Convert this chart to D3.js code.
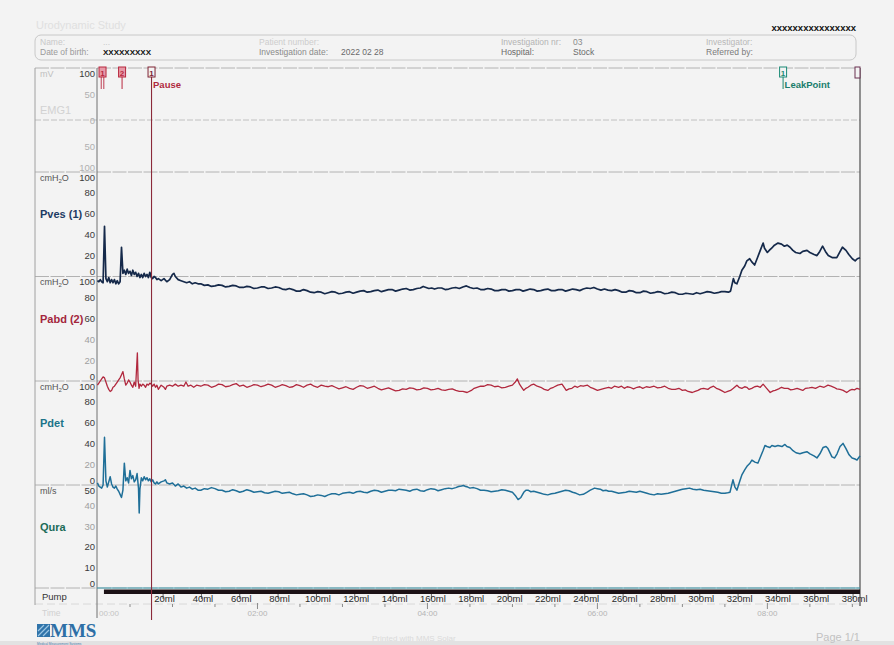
<!DOCTYPE html>
<html>
<head>
<meta charset="utf-8">
<script src="https://cdn.jsdelivr.net/npm/d3@7"></script>
<style>
  html, body { margin: 0; padding: 0; background: #f3f3f3; }
  svg { display: block; font-family: "Liberation Sans", Arial, sans-serif; }
</style>
</head>
<body>
<svg id="chart" width="894" height="645"></svg>
<script>
// ---- Recorded channels: [time in s, value] ----
const pvesData = [
  [7,-4],[8,-5],[9,-3],[10,-5],[11,-6],[12,48],[13,-2],[14,-5],[15,-1],[16,-6],[17,-3],[18,-6],[19,-3],[20,-7],[21,-4],[22,-7],[23,-5],[24,28],[25,3],[26,6],[27,2],[28,7],[29,3],[30,5],[31,1],[32,6],[33,2],[34,4],[35,0],[36,3],[37,-1],[38,2],[39,-1],[40,3],[41,0],[42,2],[43,-1],[44,4],[45,-1],[46,-2],[47,0],[48,-1],[49,-3],[50,-2],[52,-4],[54,-2],[56,-5],[58,-3],[60,2],[61,3],[62,0],[64,-3],[66,-4],[68,-5],[70,-6],[72,-5],[74,-7],[76,-6],[78,-7],
  [80,-7],[82.5,-8.5],[85,-8],[87.5,-9.5],[90,-9],[92.5,-8],[95,-8.5],[97.5,-10],[100,-9.5],[102.5,-8.5],[105,-9],[107.5,-10.5],[110,-10.5],[112.5,-9.5],[115,-10],[117.5,-11.5],[120,-11],[122.5,-10],[125,-10],[127.5,-11.5],[130,-11],[132.5,-10],[135,-10.5],[137.5,-12],[140,-12.5],[142.5,-11.5],[145,-12.5],[147.5,-14],[150,-14],[152.5,-12.5],[155,-13.5],[157.5,-15],[160,-15.5],[162.5,-14.5],[165,-15],[167.5,-16.5],[170,-15.5],[172.5,-14.5],[175,-15],[177.5,-16.5],[180,-16],[182.5,-15],[185,-14.5],[187.5,-16],[190,-15],[192.5,-14],[195,-13.5],[197.5,-15],[200,-14.5],[202.5,-13.5],[205,-13],[207.5,-14.5],[210,-13.5],[212.5,-12.5],[215,-12.5],[217.5,-14],[220,-13],[222.5,-12],[225,-11.5],[227.5,-13],[230,-12.5],[232.5,-11.5],[235,-11],[237,-9.5],[239,-10.5],[241,-11.5],[243,-11],[245,-12],[247.5,-11],[250,-11],[252.5,-12.5],[255,-12],[257.5,-11],[260,-10.5],[262.5,-11.5],[265,-10],[267.5,-9],[270,-10.5],[272.5,-11.5],[275,-11],[277.5,-12.5],[280,-12.5],[282.5,-11.5],[285,-12],[287.5,-13.5],[290,-13.5],[292.5,-12.5],[295,-12.5],[297.5,-14],[300,-13.5],[302.5,-12.5],[305,-12.5],[307.5,-14],[310,-13],[312.5,-12],[315,-12.5],[317.5,-14],[320,-13.5],[322.5,-12.5],[325,-12],[327.5,-13.5],[330,-13.5],[332.5,-12.5],[335,-12.5],[337.5,-14],[340,-13],[342.5,-12],[345,-12.5],[347.5,-13.5],[350,-12],[352.5,-11],[355,-11.5],[357.5,-10.5],[360,-12],[362.5,-13],[365,-12],[367.5,-13],[370,-13.5],[372.5,-12.5],[375,-13.5],[377.5,-15],[380,-15],[382.5,-13.5],[385,-14],[387.5,-15.5],[390,-15.5],[392.5,-14],[395,-14.5],[397.5,-16],[400,-15.5],[402.5,-14.5],[405,-15],[407.5,-16.5],[410,-16],[412.5,-15],[415,-15.5],[417.5,-17],[420,-17],[422.5,-16],[425,-16.5],[427.5,-17],[430,-15.5],[432.5,-16.5],[435,-15.5],[437.5,-14.5],[440,-15],[442.5,-16],[445,-15.5],[447.5,-14.5],[450,-14.5],[452.5,-15],[454,-14],
  [456,-2],[457,-6],[458.5,-7],[460.5,0],[462,6],[464,10],[465.5,15],[467.5,17],[469,14],[471,11],[473,18],[475,25],[477,32],[478,27],[480,23],[482,26],[483,27],[485,30],[487.5,32],[490,31],[492,29],[494,30],[496,28],[498,25],[500,23],[503,22],[505,24],[508,25],[510,23],[513,21],[515,20],[517,24],[519,29],[521,24],[523,20],[526,18],[529,18],[531,23],[533,28],[535.5,25],[537.5,21],[540,17],[542,15],[543.5,17],[545.4,18]
];

const pabdData = [
  [7,-4],[8,-2],[9,0],[10,2],[11,4],[12,3],[13,-1],[14,-5],[15,-8],[16,-10],[17,-9],[18,-6],[19,-5],[20,-3],[21,-1],[22,1],[23,3],[24,6],[25,9],[26,2],[27,-4],[28,-2],[29,1],[30,-1],[31,-4],[32,-6],[33,-1],[34,-5],[35.2,27],[35.7,1],[36.4,-7],[37,-3],[38,-5],[39,-3],[40,-4],[41,-6],[42,-3],[43,-4],[44,-2],[45,-3],[46,-5],[47,-3],[48,-6],[49,-4],[50,-8],[52,-4],[54,-6],[55,-8],[56,-5],[58,-4],[60,-5],[62,-3],[64,-5],[66,-4],[68,-5],[69.5,-1],[71,-5],[73,-4],[75,-6],[77,-4],
  [80,-5],[82.5,-3.5],[85,-4],[87.5,-6],[90,-5],[92.5,-3],[95,-3.5],[97.5,-5.5],[100,-5],[102.5,-3.5],[105,-2.5],[107.5,-5],[110,-4],[112.5,-6],[115,-5],[117.5,-3.5],[120,-4],[122.5,-5.5],[125,-4.5],[127.5,-3],[130,-4],[132.5,-6],[135,-5],[137.5,-3.5],[140,-4.5],[142.5,-6],[145,-5.5],[147.5,-3.5],[150,-4.5],[152.5,-6],[155,-4],[157.5,-3],[160,-5],[162.5,-6],[165,-4],[167.5,-5],[170,-5.5],[172.5,-4.5],[175,-6],[177.5,-7.5],[180,-6.5],[182.5,-5.5],[185,-7],[187.5,-8],[190,-6],[192.5,-4.5],[195,-5],[197.5,-7],[200,-6],[202.5,-5],[205,-7],[207.5,-8.5],[210,-7.5],[212.5,-6.5],[215,-8],[217.5,-9.5],[220,-9],[222.5,-7.5],[225,-8],[227.5,-6.5],[230,-7],[232.5,-8.5],[235,-8],[237.5,-6.5],[240,-7],[242.5,-8.5],[245,-8],[247.5,-7],[250,-8.5],[252.5,-9],[255,-8],[257.5,-7.5],[260,-9],[262.5,-10],[265,-10],[268,-11],[271,-9],[273,-7],[275,-6],[277.5,-5],[280,-5],[282.5,-3.5],[285,-4],[287.5,-5.5],[290,-5],[292.5,-6.5],[295,-6],[297.5,-5],[300,-4],[302,-1],[303.5,2],[305,-3],[306.5,-6],[308,-9],[309.5,-7],[311,-6],[313,-4],[315,-3],[317.5,-5],[320,-6],[322.5,-8],[325,-9],[327,-7],[329,-6],[332,-4],[335,-3],[338,-9],[340,-7.5],[342,-7],[344,-5],[346,-6],[348,-4.5],[350,-5],[353,-4],[355,-6],[357,-7],[360,-9],[362.5,-8],[365,-7],[368,-6],[370,-7],[372,-5],[375,-6],[377,-5],[379,-7],[381,-5.5],[383,-6],[385.5,-7.5],[388,-6],[390,-5.5],[392,-7],[394.5,-5.5],[397,-6],[400,-5],[402.5,-6.5],[405,-6],[407.5,-5],[410,-7],[412.5,-8],[415,-8],[417.5,-7],[420,-9],[422,-8.5],[424,-10],[427,-11],[429,-10],[431,-9],[433,-7.5],[435,-7],[438,-8],[440,-6],[442,-5],[444,-7],[446,-8],[448,-9.5],[450,-11],[452,-10],[454,-9],[456,-7],
  [458.5,-4],[460,-6],[462,-7],[464,-5.5],[465.5,-6],[467,-8],[469,-7],[471,-5.5],[473,-5],[475,-6],[477,-3],[479.5,-7],[482,-11],[484,-9.5],[485.5,-9],[488,-7.5],[490,-6],[492,-7],[494.5,-7],[496.5,-8.5],[498.5,-8],[501,-7],[503,-8],[505,-9],[507,-7],[509.5,-6.5],[511.5,-6],[514,-7],[517,-5],[520,-6],[522.8,-4],[525,-5],[527,-6],[529,-7.5],[531.3,-8],[533.5,-9],[536,-11],[538,-9],[539.8,-8],[541.5,-8.5],[543.3,-7],[545.4,-8]
];

const pdetData = [
  [7,2],[8,-1],[9,-2],[10,-3],[11,0],[12,46],[13,4],[14,-2],[15,3],[16,8],[17,1],[18,-2],[19,-3],[20,-1],[21,-4],[22,-6],[23,-9],[24,-12],[25,-5],[26,21],[27,4],[28,7],[29,2],[30,14],[31,6],[32,9],[33,3],[34,5],[35,11],[36,-3],[36.5,-27],[37,-4],[38,7],[39,4],[40,8],[41,5],[42,7],[43,4],[44,6],[45,3],[46,5],[47,2],[48,1],[49,3],[50,1],[52,3],[54,4],[55,5],[56,2],[58,1],[60,2],[62,-1],[64,1],[66,-2],[68,-1],[70,-3],[72,-2],[74,-4],[76,-3],[78,-5],
  [80,-5],[82.5,-3.5],[85,-4],[87.5,-2.5],[90,-3.5],[92.5,-5],[95,-5],[97.5,-6.5],[100,-6],[102.5,-4.5],[105,-5.5],[107.5,-7],[110,-6],[112.5,-4.5],[115,-5.5],[117.5,-7],[120,-6.5],[122.5,-6],[125,-7.5],[127.5,-8],[130,-7],[132.5,-6],[135,-6.5],[137.5,-8],[140,-7.5],[142.5,-7],[145,-8.5],[147.5,-9.5],[150,-9],[152.5,-8.5],[155,-9.5],[157.5,-11],[160,-10.5],[162.5,-9.5],[165,-10],[167.5,-11],[170,-9.5],[172.5,-8.5],[175,-8.5],[177.5,-9.5],[180,-8],[182.5,-7.5],[185,-7],[187.5,-8],[190,-6.5],[192.5,-6],[195,-7],[197.5,-7.5],[200,-6],[202.5,-5],[205,-5.5],[207.5,-7],[210,-6],[212.5,-5],[215,-5],[217.5,-5.5],[220,-4],[222.5,-4.5],[225,-5],[227.5,-6],[230,-4.5],[232.5,-4],[235,-5.5],[237.5,-6],[240,-4.5],[242.5,-3.5],[245,-4],[247.5,-5.5],[250,-4.5],[252.5,-3.5],[255,-3],[257.5,-3.5],[260,-2.5],[262,-1.5],[264,-1],[265.5,-0.5],[267,-1.5],[268.5,-2],[270,-3],[272.5,-2.5],[275,-3.5],[277.5,-5],[280,-5],[282.5,-5.5],[285,-6.5],[287.5,-6],[290,-5.5],[292.5,-4.5],[295,-5],[297.5,-6],[300,-7],[302,-10],[304,-14],[306,-12],[308,-7],[309.5,-5],[311,-5],[313,-6.5],[315,-6],[317.5,-7],[320,-8],[322.5,-9],[325,-9.5],[327.5,-8.5],[330,-8],[332.5,-7],[335,-6],[337.5,-5],[340,-5.5],[342.5,-7],[345,-8],[347.5,-9.5],[350,-9],[352.5,-7],[355,-5],[356.5,-4],[358,-3],[360,-3.5],[362,-4],[364,-5.5],[366,-5],[368,-6],[370,-6],[372.5,-7],[375,-8],[377.5,-7.5],[380,-7],[382.5,-6],[385,-6.5],[387.5,-7],[390,-6],[392.5,-7],[395,-8],[397.5,-9],[400,-9.5],[402.5,-8.5],[405,-9],[407.5,-8.5],[410,-8],[412.5,-7],[415,-6],[417.5,-5],[420,-4],[422.5,-3.5],[425,-3],[427.5,-4],[430,-4.5],[432.5,-4],[435,-5],[437.5,-5.5],[440,-6],[442.5,-6.5],[445,-7],[447.5,-8],[450,-8],[452,-7.5],[453.6,-7],
  [455.7,5],[457.1,-2],[458.5,-5],[460.6,4],[462.1,10],[464.2,15],[465.6,18],[467.7,21],[469.1,24],[471.2,22],[473.3,21],[474.8,26],[476.9,33],[478.3,38],[479.7,37],[481.8,36],[483.2,38],[485.4,37],[487.5,38],[490.3,37],[492.4,39],[493.8,37],[495.9,36],[498.1,33],[500.2,31],[503,30],[505.1,31],[507.9,32],[510.1,30],[512.9,28],[515,26],[517.1,30],[519.3,36],[521.4,37],[522.8,35],[525.6,27],[527.5,26],[529.2,30],[531.3,37],[533.4,40],[535.5,35],[537.7,29],[539.8,26],[541.9,25],[543.3,24],[545.4,28]
];

const quraData = [[6.7,0],[545.4,0]];

// Filling pump and volume
const pumpStartSec = 11.6;
const fillStartSec = 26.3;     // infused volume counts from here
const fillRateMlPerSec = 0.739;
const volumeTicks = [20,40,60,80,100,120,140,160,180,200,220,240,260,280,300,320,340,360,380];

// Time axis
const timeMajorTicks = [120,240,360,480];
const timeMajorLabels = ["02:00","04:00","06:00","08:00"];
const timeMinorTicks = [30,60,90,150,180,210,270,300,330,390,420,450,510,540];

// Event markers
const markers = [
  {label:"1", t:10.6, kind:"event", text:""},
  {label:"2", t:24.4, kind:"event", text:""},
  {label:"1", t:45.2, kind:"pause", text:"Pause"},
  {label:"1", t:491.1, kind:"leak", text:"LeakPoint"}
];

// ---- Layout ----
const svg = d3.select("#chart");
const plotL = 97, plotR = 860, frameL = 35;
const x = d3.scaleLinear().domain([6.7, 545.4]).range([plotL, plotR]);

const panels = [
  {id:"emg",  unit:"mV",    name:"EMG1",     nameColor:"#d2d2d2", top:68,    bottom:172,   domain:[-100,100], ticks:[100,50,0,-50,-100], faint:[50,0,-50,-100]},
  {id:"pves", unit:"cmH2O", name:"Pves (1)", nameColor:"#1d3b63", top:172,   bottom:276.5, domain:[0,100], ticks:[100,80,60,40,20,0], faint:[]},
  {id:"pabd", unit:"cmH2O", name:"Pabd (2)", nameColor:"#a3263c", top:276.5, bottom:381,   domain:[0,100], ticks:[100,80,60,40,20,0], faint:[40,20]},
  {id:"pdet", unit:"cmH2O", name:"Pdet",     nameColor:"#1b7389", top:381,   bottom:485,   domain:[0,100], ticks:[100,80,60,40,20,0], faint:[20]},
  {id:"qura", unit:"ml/s",  name:"Qura",     nameColor:"#1b6b58", top:485,   bottom:588,   domain:[0,50],  ticks:[50,40,30,20,10,0], faint:[40,30]}
];
panels.forEach(p => { p.y = d3.scaleLinear().domain(p.domain).range([p.bottom, p.top]); });
const P = Object.fromEntries(panels.map(p => [p.id, p]));

// background + bottom band
svg.append("rect").attr("width",894).attr("height",645).attr("fill","#f3f3f3");
svg.append("rect").attr("x",0).attr("y",641).attr("width",894).attr("height",4).attr("fill","#e2e2e2");

// ---- Header ----
svg.append("text").attr("x",36).attr("y",29).attr("font-size",11).attr("fill","#e0e0e0").text("Urodynamic Study");
svg.append("text").attr("x",856).attr("y",31).attr("text-anchor","end").attr("font-size",9.5).attr("font-weight","bold").attr("fill","#111").text("xxxxxxxxxxxxxxxx");
svg.append("rect").attr("x",35).attr("y",35).attr("width",821).attr("height",25).attr("rx",6)
  .attr("fill","none").attr("stroke","#c8c8c8").attr("stroke-width",1);
const hdr = [
  [40,45,"Name:","#c8c8c8"],[103,45,"...","#c8c8c8"],
  [259,45,"Patient number:","#cdcdcd"],
  [501,45,"Investigation nr:","#b4b4b4"],[573,45,"03","#8a8a8a"],
  [706,45,"Investigator:","#b8b8b8"],
  [40,55,"Date of birth:","#9a9a9a"],
  [259,55,"Investigation date:","#8a8a8a"],[341,55,"2022 02 28","#6a6a6a"],
  [501,55,"Hospital:","#6a6a6a"],[573,55,"Stock","#6a6a6a"],
  [706,55,"Referred by:","#7a7a7a"]
];
hdr.forEach(h => svg.append("text").attr("x",h[0]).attr("y",h[1]).attr("font-size",8.5).attr("fill",h[3]).text(h[2]));
svg.append("text").attr("x",103).attr("y",55).attr("font-size",8).attr("font-weight","bold").attr("fill","#111").text("XXXXXXXXX");

// ---- Frame / separators ----
const sepYs = [68, 120, 172, 276.5, 381, 485, 588];
sepYs.forEach((yy,i) => {
  svg.append("line").attr("x1",frameL).attr("x2",plotR).attr("y1",yy).attr("y2",yy)
    .attr("stroke", i===1 ? "#c0c0c0" : "#b2b2b2").attr("stroke-width",1)
    .attr("stroke-dasharray", i===1 ? "6,2" : "14,1.5");
});
svg.append("line").attr("x1",frameL).attr("x2",plotR).attr("y1",604).attr("y2",604).attr("stroke","#d8d8d8").attr("stroke-dasharray","8,4");
svg.append("line").attr("x1",frameL).attr("x2",frameL).attr("y1",68).attr("y2",605).attr("stroke","#a0a0a0");
svg.append("line").attr("x1",plotL).attr("x2",plotL).attr("y1",68).attr("y2",618).attr("stroke","#707070");
svg.append("line").attr("x1",plotR).attr("x2",plotR).attr("y1",68).attr("y2",606).attr("stroke","#5a5a5a").attr("stroke-width",1.3);

// ---- Panel labels and ticks ----
panels.forEach(p => {
  const ut = svg.append("text").attr("x",40).attr("y",p.top+8.5).attr("font-size",9)
    .attr("fill", p.id==="emg" ? "#c0c0c0" : "#555");
  if (p.unit === "cmH2O") {
    ut.append("tspan").text("cmH");
    ut.append("tspan").attr("font-size",6).attr("dy",2).text("2");
    ut.append("tspan").attr("dy",-2).text("O");
  } else ut.text(p.unit);

  svg.append("text").attr("x",40).attr("y",p.top+46).attr("font-size",11)
    .attr("font-weight", p.id==="emg" ? "normal" : "600").attr("fill",p.nameColor).text(p.name);

  p.ticks.forEach(v => {
    const cy = Math.min(Math.max(p.y(v), p.top+5), p.bottom-5);
    svg.append("text").attr("x",95).attr("y",cy+3.5).attr("text-anchor","end").attr("font-size",9.5)
      .attr("fill", p.faint.includes(v) ? (p.id==="emg" ? "#b0b0b0" : "#a0a0a0") : "#3a3a3a")
      .text(Math.abs(v));
  });
});

// ---- Traces ----
function trace(data, panel, color, width) {
  const line = d3.line().x(d => x(d[0])).y(d => panel.y(d[1]));
  svg.append("path").datum(data).attr("d",line).attr("fill","none")
    .attr("stroke",color).attr("stroke-width",width).attr("stroke-linejoin","round");
}
trace(quraData, P.qura, "#3f9db0", 1);
trace(pabdData, P.pabd, "#b1283e", 1.3);
trace(pdetData, P.pdet, "#1f6f98", 1.5);
trace(pvesData, P.pves, "#15294a", 1.7);

// ---- Pump bar and volume axis ----
svg.append("text").attr("x",42).attr("y",600).attr("font-size",9.5).attr("fill","#333").text("Pump");
svg.append("rect").attr("x",x(pumpStartSec)).attr("y",589.5).attr("width",x.range()[1]-x(pumpStartSec)).attr("height",4.5).attr("fill","#1c1216");
const volX = v => x(fillStartSec + v / fillRateMlPerSec);
volumeTicks.forEach(v => {
  const vx = volX(v);
  svg.append("line").attr("x1",vx).attr("x2",vx).attr("y1",594).attr("y2",599).attr("stroke","#444").attr("stroke-width",0.8);
  svg.append("text").attr("x",vx+1.5).attr("y",601.5).attr("text-anchor","middle").attr("font-size",9.5).attr("fill","#2a2a2a").text(v+"ml");
});

// ---- Time axis ----
svg.append("text").attr("x",42).attr("y",616).attr("font-size",8.5).attr("fill","#d0d0d0").text("Time");
svg.append("text").attr("x",99).attr("y",616).attr("font-size",8).attr("fill","#c4c4c4").text("00:00");
timeMinorTicks.forEach(t => {
  svg.append("line").attr("x1",x(t)).attr("x2",x(t)).attr("y1",604).attr("y2",607).attr("stroke","#8a8a8a");
});
timeMajorTicks.forEach((t,i) => {
  svg.append("line").attr("x1",x(t)).attr("x2",x(t)).attr("y1",603).attr("y2",609).attr("stroke","#8a8a8a");
  svg.append("text").attr("x",x(t)).attr("y",616).attr("text-anchor","middle").attr("font-size",8).attr("fill","#b4b4b4").text(timeMajorLabels[i]);
});

// ---- Event markers ----
markers.forEach(m => {
  const mx = x(m.t);
  const col = m.kind === "leak" ? "#1a8a76" : (m.kind === "pause" ? "#7e2233" : "#b8283f");
  if (m.kind === "pause") {
    svg.append("line").attr("x1",mx).attr("x2",mx).attr("y1",77).attr("y2",620).attr("stroke","#8b2a3a").attr("stroke-width",1.1);
  } else if (m.label === "1" && m.kind === "event") {
    [-1.3,1.3].forEach(o => svg.append("line").attr("x1",mx+o).attr("x2",mx+o).attr("y1",77).attr("y2",89).attr("stroke",col).attr("stroke-width",0.9));
  } else {
    svg.append("line").attr("x1",mx).attr("x2",mx).attr("y1",77).attr("y2",89).attr("stroke",col).attr("stroke-width",1);
  }
  svg.append("rect").attr("x",mx-3.5).attr("y",67).attr("width",7).attr("height",10)
    .attr("fill", m.kind === "event" ? "#e79aa8" : "#f3f3f3").attr("stroke",col).attr("stroke-width",1);
  svg.append("text").attr("x",mx).attr("y",75.5).attr("text-anchor","middle").attr("font-size",8).attr("font-weight","bold").attr("fill",col).text(m.label);
  if (m.text) {
    svg.append("text").attr("x",mx+1.5).attr("y",87.5).attr("font-size",9.5).attr("font-weight","bold")
      .attr("fill", m.kind === "leak" ? "#1a7d6b" : "#b0283c").text(m.text);
  }
});
svg.append("rect").attr("x",855).attr("y",67).attr("width",5).attr("height",11).attr("fill","#f3f3f3").attr("stroke","#6a3050");

// ---- Footer ----
const logo = svg.append("g");
logo.append("rect").attr("x",37).attr("y",624).attr("width",13).attr("height",13).attr("fill","#2f74aa");
logo.append("path").attr("d","M38,636 L49,625 M38,631 L44,625 M43,636 L49,630").attr("stroke","#9cc6e4").attr("stroke-width",1.2);
logo.append("text").attr("x",50).attr("y",636.5).attr("font-family","'Liberation Serif', serif").attr("font-size",19).attr("font-weight","bold").attr("fill","#2e6fa6").text("MMS");
logo.append("text").attr("x",37).attr("y",644.6).attr("font-size",3.2).attr("fill","#4b7fae").text("Medical Measurement Systems");
svg.append("text").attr("x",372).attr("y",641).attr("font-size",8).attr("fill","#dadada").text("Printed with MMS Solar");
svg.append("text").attr("x",860).attr("y",641).attr("text-anchor","end").attr("font-size",11).attr("fill","#c2c2c2").text("Page 1/1");
</script>
</body>
</html>
